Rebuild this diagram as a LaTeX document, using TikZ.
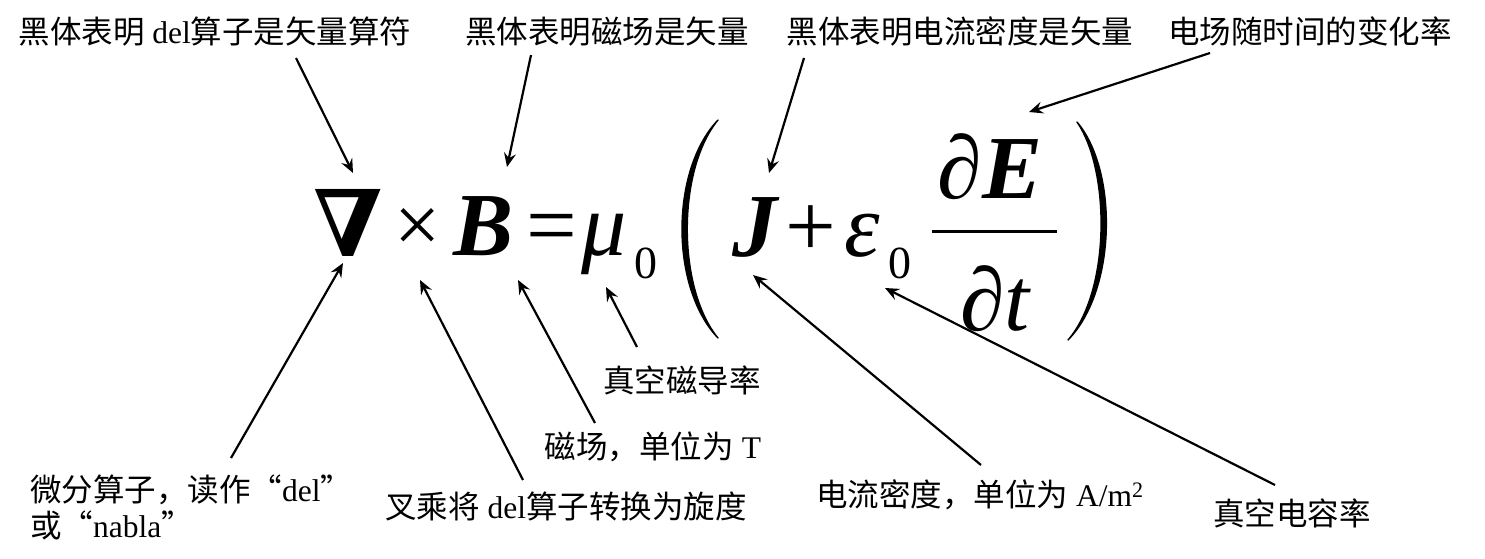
\documentclass[tikz,border=0pt]{standalone}
\usepackage{fontspec}
\setmainfont{Liberation Serif}
\newfontfamily\cjk{Noto Sans CJK SC}
\newfontfamily\dvs{DejaVu Serif}
\usetikzlibrary{arrows.meta}
\newcommand\zh[1]{{\cjk #1}}
\begin{document}
\begin{tikzpicture}[x=1pt,y=-1pt,
  lbl/.style={inner sep=0pt, font=\fontsize{31.5}{36}\selectfont},
  eq/.style={inner sep=0pt, anchor=base, font=\fontsize{90}{100}\selectfont},
  sub/.style={inner sep=0pt, anchor=base, font=\fontsize{46}{50}\selectfont},
  arr/.style={line width=2.2pt, -{Stealth[length=14pt,width=12pt,inset=5pt]}},
  parenfill/.style={fill=black, draw=black, line width=1.4pt, line join=round}]
\useasboundingbox (0,0) rectangle (1485,558);

% ---------- formula ----------
\node[eq, font=\fontsize{92}{100}\selectfont] (nabla) at (348,256) {\dvs\bfseries ∇};
\node[eq, font=\fontsize{82}{90}\selectfont] (times) at (418,252) {×};
\node[eq] (B) at (484,255) {\bfseries\itshape B};
\node[eq] (eqs) at (552,255) {=};
\node[eq] (mu) at (604,255) {\itshape μ};
\node[sub] (mu0) at (646,278) {0};
\node[eq] (J) at (755,256) {\bfseries\itshape J};
\node[eq] (plus) at (811,256) {+};
\node[eq] (eps) at (862,256) {\itshape ε};
\node[sub] (eps0) at (900,278) {0};
\node[eq] (dE) at (990,198) {∂\bfseries\itshape E};
\node[eq] (dt) at (995,330) {∂\itshape t};
\draw[line width=3pt] (932,231) -- (1057,231);
% parentheses
\path[parenfill] (718,120) .. controls (670,170) and (670,288) .. (718,338)
  .. controls (677,288) and (677,170) .. (718,120) -- cycle;
\path[parenfill] (1077,122) .. controls (1118,170) and (1117,290) .. (1068,340)
  .. controls (1111,290) and (1110,170) .. (1077,122) -- cycle;

% ---------- labels ----------
\node[lbl] (L1) at (215,32) {\zh{黑体表明} del\zh{算子是矢量算符}};
\node[lbl] (L2) at (607,32) {\zh{黑体表明磁场是矢量}};
\node[lbl] (L3) at (960,31) {\zh{黑体表明电流密度是矢量}};
\node[lbl] (L4) at (1310,31) {\zh{电场随时间的变化率}};
\node[lbl] (L5) at (682,380) {\zh{真空磁导率}};
\node[lbl] (L6) at (653,447) {\zh{磁场，单位为} T};
\node[lbl, anchor=north west, align=left] (L7) at (30,475)
  {\zh{微分算子，读作“}del\zh{”}\\\zh{或“}nabla\zh{”}};
\node[lbl] (L8) at (566,506) {\zh{叉乘将} del\zh{算子转换为旋度}};
\node[lbl] (L9) at (980,495) {\zh{电流密度，单位为} A/m\textsuperscript{2}};
\node[lbl] (L10) at (1292,513) {\zh{真空电容率}};

% ---------- arrow end points ----------
\coordinate (a1s) at (296,58);   \coordinate (a1e) at (353,173);
\coordinate (a2s) at (531,55);   \coordinate (a2e) at (507,167);
\coordinate (a3s) at (804,58);   \coordinate (a3e) at (769,173);
\coordinate (a4s) at (1210,53);  \coordinate (a4e) at (1029,112);
\coordinate (b1s) at (231,458);  \coordinate (b1e) at (343,263);
\coordinate (b2s) at (523,480);  \coordinate (b2e) at (420,280);
\coordinate (b3s) at (595,423);  \coordinate (b3e) at (518,280);
\coordinate (b4s) at (637,347);  \coordinate (b4e) at (606,287);
\coordinate (b5s) at (981,465);  \coordinate (b5e) at (753,275);
\coordinate (b6s) at (1275,485); \coordinate (b6e) at (885,288);

\draw[arr] (a1s) -- (a1e);
\draw[arr] (a2s) -- (a2e);
\draw[arr] (a3s) -- (a3e);
\draw[arr] (a4s) -- (a4e);
\draw[arr] (b1s) -- (b1e);
\draw[arr] (b2s) -- (b2e);
\draw[arr] (b3s) -- (b3e);
\draw[arr] (b4s) -- (b4e);
\draw[arr] (b5s) -- (b5e);
\draw[arr] (b6s) -- (b6e);
\end{tikzpicture}
\end{document}
